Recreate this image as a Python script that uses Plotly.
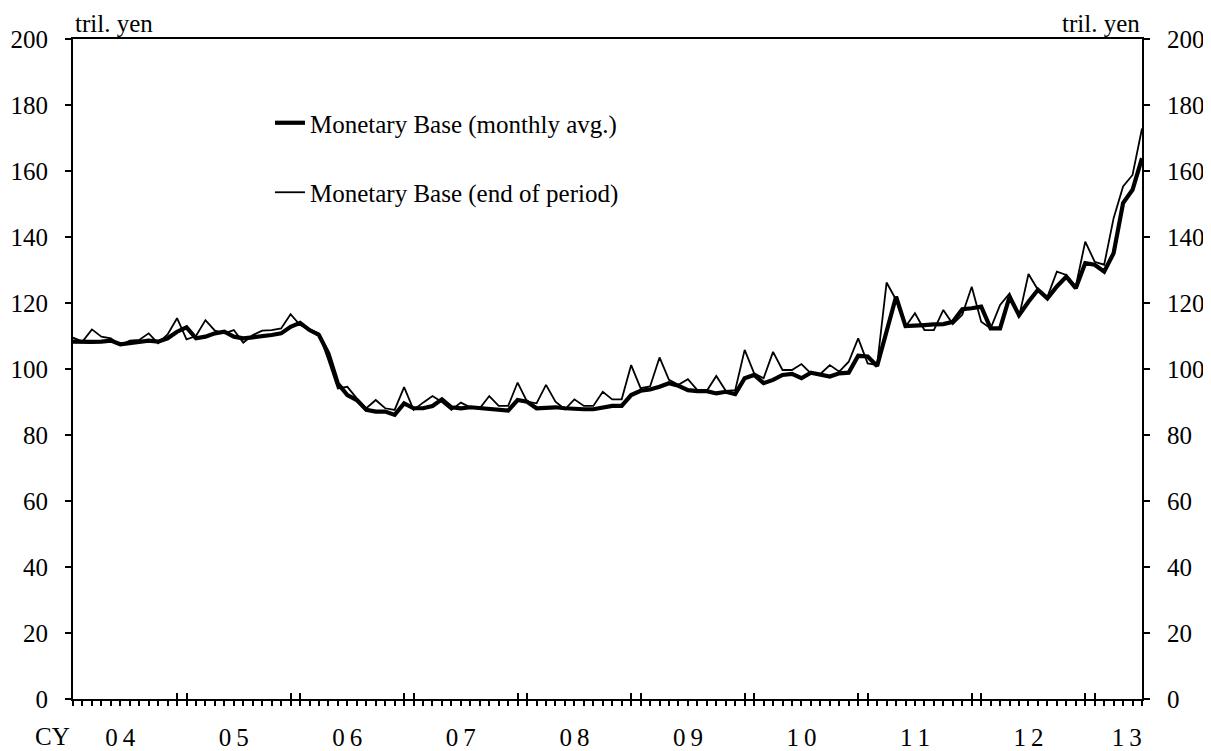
import plotly.graph_objects as go

# ---------------- data ----------------
# months Jan-2004 .. Jun-2013 (index 0..113)
months = [f"{y}-{m:02d}" for y in range(2004, 2014) for m in range(1, 13)][:114]

# Monetary Base, monthly average (tril. yen)
mb_avg = [
    108.3, 108.1, 108.2, 108.3, 108.6, 107.5, 107.8, 108.3, 108.6, 108.3, 109.3, 111.3,  # 2004
    112.6, 109.3, 109.8, 110.8, 111.3, 109.8, 109.3, 109.6, 109.8, 110.3, 110.8, 112.8,  # 2005
    114.0, 111.8, 110.3, 104.7, 95.6, 92.1, 90.6, 87.6, 87.1, 87.1, 86.1, 89.6,          # 2006
    88.1, 88.1, 88.8, 90.8, 88.4, 88.1, 88.4, 88.1, 87.8, 87.8, 87.4, 90.6,              # 2007
    90.1, 88.1, 88.4, 88.4, 88.1, 87.8, 87.8, 87.8, 88.4, 88.8, 88.8, 92.1,              # 2008
    93.4, 93.8, 94.6, 95.7, 94.9, 93.6, 93.3, 93.3, 92.6, 93.1, 92.4, 97.2,              # 2009
    98.2, 95.7, 96.7, 98.2, 98.5, 97.2, 98.9, 98.2, 97.7, 98.7, 98.9, 104.0,             # 2010
    103.8, 100.9, 111.3, 121.9, 113.0, 113.3, 113.3, 113.5, 113.6, 114.3, 118.1, 118.4,  # 2011
    118.9, 112.3, 112.3, 121.9, 116.3, 120.4, 124.0, 121.4, 125.0, 128.0, 124.5, 132.1,  # 2012
    131.6, 129.5, 135.1, 150.3, 154.3, 163.9,                                            # 2013
]

# Monetary Base, end of period (tril. yen)
mb_end = [
    109.5, 108.3, 112.0, 109.8, 109.3, 107.2, 108.6, 108.8, 110.8, 107.8, 110.5, 115.4,  # 2004
    109.0, 110.0, 114.8, 111.6, 110.8, 111.8, 108.0, 110.3, 111.6, 111.8, 112.3, 116.6,  # 2005
    113.3, 112.0, 110.8, 102.7, 94.1, 94.6, 91.1, 88.1, 90.6, 88.1, 87.6, 94.5,          # 2006
    87.6, 89.8, 91.8, 90.0, 87.6, 89.8, 88.4, 88.1, 91.8, 88.8, 88.8, 95.9,              # 2007
    90.1, 89.6, 95.2, 90.1, 87.8, 90.8, 88.8, 88.8, 93.1, 90.8, 90.8, 101.2,             # 2008
    94.2, 94.7, 103.5, 96.7, 95.2, 96.9, 93.6, 93.4, 97.9, 93.4, 93.6, 105.8,            # 2009
    98.7, 97.2, 105.2, 99.7, 99.7, 101.5, 98.7, 98.5, 101.2, 99.2, 102.2, 109.3,         # 2010
    101.7, 101.2, 126.2, 121.0, 112.8, 116.9, 111.8, 111.8, 117.9, 113.6, 116.4, 124.9,  # 2011
    114.3, 112.3, 119.4, 122.9, 115.8, 128.8, 124.0, 121.9, 129.5, 128.5, 125.0, 138.6,  # 2012
    132.5, 131.6, 145.7, 155.3, 158.8, 172.9,                                            # 2013
]

year_labels = ["0\u20094", "0\u20095", "0\u20096", "0\u20097", "0\u20098",
               "0\u20099", "1\u20090", "1\u20091", "1\u20092", "1\u20093"]
year_label_pos = [5, 17, 29, 41, 53, 65, 77, 89, 101, 111.4]   # month-index positions of labels
year_boundary_months = [m for m in months if m.endswith("-12") or (m.endswith("-01") and m != "2004-01")]

y_ticks = [0, 20, 40, 60, 80, 100, 120, 140, 160, 180, 200]

# ---------------- figure ----------------
idx = {m: i for i, m in enumerate(months)}
xs = [idx[m] for m in months]
FONT = "Liberation Serif, Times New Roman, serif"
FS = 25

fig = go.Figure()
fig.add_trace(go.Scatter(x=xs, y=mb_avg, mode="lines", name="Monetary Base (monthly avg.)",
                         line=dict(color="black", width=4.2), legendgroup="a"))
fig.add_trace(go.Scatter(x=xs, y=mb_end, mode="lines", name="Monetary Base (end of period)",
                         line=dict(color="black", width=1.8), legendgroup="b"))
# invisible helpers so that overlay axes are drawn
fig.add_trace(go.Scatter(x=xs, y=mb_avg, xaxis="x2", yaxis="y2", mode="lines",
                         line=dict(width=0), opacity=0, showlegend=False, hoverinfo="skip"))
fig.add_trace(go.Scatter(x=xs, y=mb_avg, xaxis="x3", yaxis="y", mode="lines",
                         line=dict(width=0), opacity=0, showlegend=False, hoverinfo="skip"))

rng = [0, len(months) - 1]
fig.update_layout(
    width=1203, height=743,
    margin=dict(l=65, r=69, t=31, b=52, autoexpand=False),
    paper_bgcolor="white", plot_bgcolor="white",
    font=dict(family=FONT, size=FS, color="black"),
    showlegend=True,
    legend=dict(x=(270 - 73) / 1069, y=1 - (100 - 39) / 660, xanchor="left", yanchor="top",
                bgcolor="rgba(0,0,0,0)", borderwidth=0, tracegroupgap=34,
                font=dict(family=FONT, size=FS, color="black")),
    xaxis=dict(range=rng, showgrid=False, zeroline=False, showline=True, linecolor="black",
               linewidth=2, mirror=True, ticks="", tickmode="array", automargin=False,
               tickvals=year_label_pos, ticktext=year_labels, ticklabelstandoff=15,
               tickfont=dict(family=FONT, size=FS)),
    xaxis2=dict(range=rng, overlaying="x", anchor="y", side="bottom", showgrid=False,
                zeroline=False, showline=False, ticks="outside", ticklen=6, tickwidth=1.6,
                tickcolor="black", tickmode="linear", tick0=0, dtick=1, showticklabels=False,
                automargin=False),
    xaxis3=dict(range=rng, overlaying="x", anchor="y", side="bottom", showgrid=False,
                zeroline=False, showline=False, ticks="inside", ticklen=6, tickwidth=1.6,
                tickcolor="black", tickmode="array", automargin=False,
                tickvals=[idx[m] for m in year_boundary_months], showticklabels=False),
    yaxis=dict(range=[0, 200], tickmode="array", tickvals=y_ticks, showgrid=False, zeroline=False,
               showline=True, linecolor="black", linewidth=2, ticks="outside", ticklen=6,
               tickwidth=1.6, tickcolor="black", ticklabelstandoff=12, automargin=False,
               tickfont=dict(family=FONT, size=FS)),
    yaxis2=dict(range=[0, 200], overlaying="y", side="right", anchor="x", tickmode="array",
                tickvals=y_ticks, showgrid=False, zeroline=False, showline=True,
                linecolor="black", linewidth=2, ticks="outside", ticklen=6, tickwidth=1.6,
                tickcolor="black", ticklabelstandoff=12, automargin=False,
                tickfont=dict(family=FONT, size=FS)),
    annotations=[
        dict(text="tril. yen", xref="paper", yref="paper", x=0, y=1, xanchor="left",
             yanchor="bottom", showarrow=False, font=dict(family=FONT, size=FS)),
        dict(text="tril. yen", xref="paper", yref="paper", x=1, y=1, xanchor="right",
             yanchor="bottom", showarrow=False, font=dict(family=FONT, size=FS)),
        dict(text="CY", xref="paper", yref="paper", x=(52 - 73) / 1069, y=(699 - 736) / 660,
             xanchor="center", yanchor="middle", showarrow=False, font=dict(family=FONT, size=FS)),
    ],
)

fig.write_html("out.html")
